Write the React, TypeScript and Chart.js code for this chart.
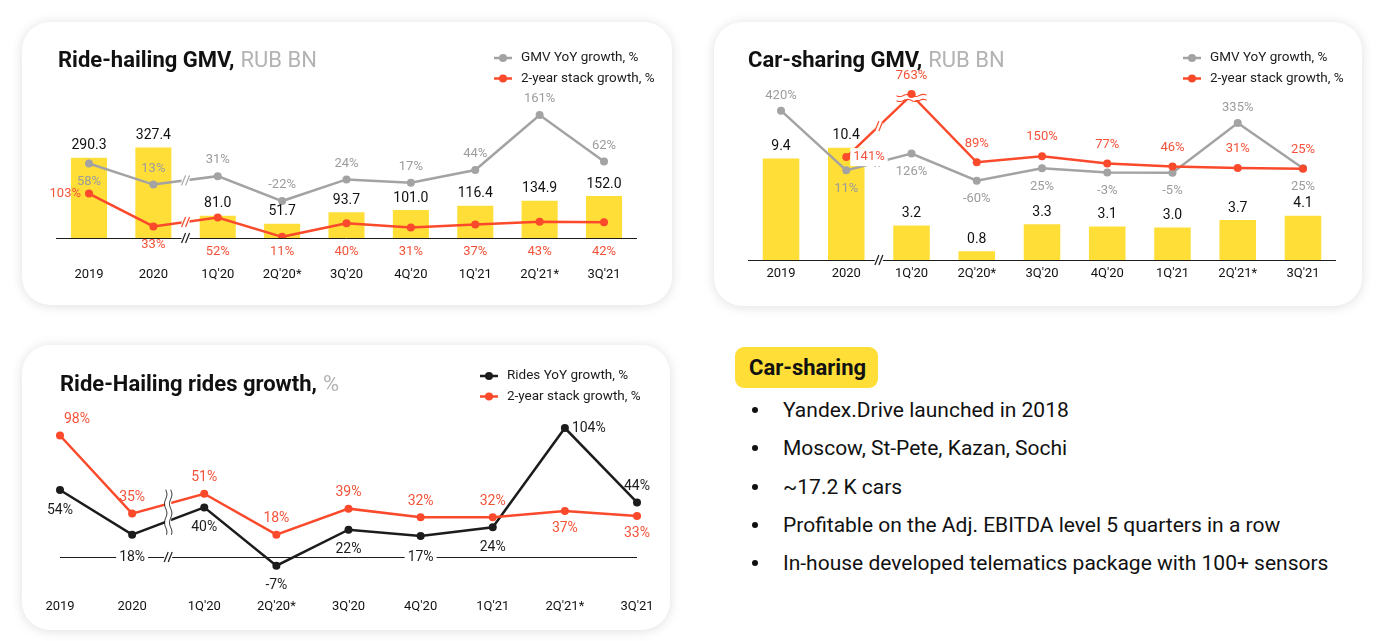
import React, { useEffect, useRef } from 'react';
import { Chart, registerables } from 'chart.js';
Chart.register(...registerables);

// ---------- data ----------
const categories = ['2019', '2020', "1Q'20", "2Q'20*", "3Q'20", "4Q'20", "1Q'21", "2Q'21*", "3Q'21"];

const rideGmv = [290.3, 327.4, 81.0, 51.7, 93.7, 101.0, 116.4, 134.9, 152.0];
const rideGmvYoy = [58, 13, 31, -22, 24, 17, 44, 161, 62];
const rideGmvStack = [103, 33, 52, 11, 40, 31, 37, 43, 42];

const carGmv = [9.4, 10.4, 3.2, 0.8, 3.3, 3.1, 3.0, 3.7, 4.1];
const carGmvYoy = [420, 11, 126, -60, 25, -3, -5, 335, 25];
const carGmvStack = [null, 141, 763, 89, 150, 77, 46, 31, 25];

const ridesYoy = [54, 18, 40, -7, 22, 17, 24, 104, 44];
const ridesStack = [98, 35, 51, 18, 39, 32, 32, 37, 33];

const bulletPoints = [
  'Yandex.Drive launched in 2018',
  'Moscow, St-Pete, Kazan, Sochi',
  '~17.2 K cars',
  'Profitable on the Adj. EBITDA level 5 quarters in a row',
  'In-house developed telematics package with 100+ sensors',
];

// ---------- styles ----------
const FONT = 'Roboto';
const YELLOW = '#FFDE38';
const RED = '#FA4A2B';
const RED_TEXT = '#F4533A';
const GRAY = '#A3A3A3';
const GRAY_TEXT = '#9C9C9C';
const BLACK = '#1C1C1C';

const pct = (v: number) => `${v}%`;
const dec = (v: number) => v.toFixed(1);

function drawText(ctx: any, text: string, x: number, y: number, align: string, color: string, font: string, bg?: boolean) {
  ctx.font = font;
  ctx.textAlign = align;
  ctx.textBaseline = 'middle';
  if (bg) {
    const w = ctx.measureText(text).width;
    const lx = align === 'center' ? x - w / 2 : align === 'left' ? x : x - w;
    ctx.fillStyle = '#fff';
    ctx.fillRect(lx - 3, y - 9, w + 6, 18);
  }
  ctx.fillStyle = color;
  ctx.fillText(text, x, y);
}

function drawSlash(ctx: any, x: number, y: number, color: string) {
  ctx.fillStyle = '#fff';
  ctx.fillRect(x - 4, y - 6, 8, 12);
  ctx.strokeStyle = color;
  ctx.lineWidth = 1.2;
  for (const dx of [-2, 2]) {
    ctx.beginPath();
    ctx.moveTo(x + dx - 2, y + 5);
    ctx.lineTo(x + dx + 2, y - 5);
    ctx.stroke();
  }
}

function drawWavyH(ctx: any, x: number, y: number, color: string) {
  ctx.fillStyle = '#fff';
  ctx.fillRect(x - 15, y + 1, 30, 4);
  ctx.strokeStyle = color;
  ctx.lineWidth = 1.1;
  for (const dy of [0.5, 5.5]) {
    ctx.beginPath();
    for (let xx = -15; xx <= 15; xx += 1) {
      const yy = y + dy + Math.sin(xx / 2.5) * 1.1;
      if (xx === -15) ctx.moveTo(x + xx, yy); else ctx.lineTo(x + xx, yy);
    }
    ctx.stroke();
  }
  ctx.fillStyle = color;
  ctx.beginPath();
  ctx.arc(x, y - 1, 4, 0, Math.PI * 2);
  ctx.fill();
}

function makeDecor(cfg: any) {
  return {
    id: 'decor',
    afterDatasetsDraw(chart: any) {
      const ctx = chart.ctx;
      const area = chart.chartArea;
      const xs = chart.scales.x;
      ctx.save();
      const bx = xs.getPixelForValue(1.5);
      if (cfg.breakLines) {
        chart.data.datasets.forEach((ds: any, di: number) => {
          if (ds.type !== 'line') return;
          const meta = chart.getDatasetMeta(di);
          if (ds.data[1] == null || ds.data[2] == null) return;
          const p1 = meta.data[1], p2 = meta.data[2];
          const t = (bx - p1.x) / (p2.x - p1.x);
          drawSlash(ctx, bx, p1.y + t * (p2.y - p1.y), ds.borderColor);
        });
      }
      if (cfg.peakBreak) {
        const [di, idx] = cfg.peakBreak;
        const el = chart.getDatasetMeta(di).data[idx];
        drawWavyH(ctx, el.x, el.y, chart.data.datasets[di].borderColor);
      }
      if (cfg.breakVertical) {
        const ys: number[] = [];
        chart.data.datasets.forEach((ds: any, di: number) => {
          const meta = chart.getDatasetMeta(di);
          const p1 = meta.data[1], p2 = meta.data[2];
          const t = (bx - p1.x) / (p2.x - p1.x);
          ys.push(p1.y + t * (p2.y - p1.y));
        });
        const top = Math.min(...ys) - 14, bot = Math.max(...ys) + 14;
        ctx.fillStyle = '#fff';
        ctx.fillRect(bx - 3, top, 6, bot - top);
        ctx.strokeStyle = BLACK;
        ctx.lineWidth = 1;
        for (const dx of [-2.5, 2.5]) {
          ctx.beginPath();
          for (let yy = top; yy <= bot; yy += 1) {
            const xx = bx + dx + Math.sin((yy - top) / 3) * 1.2;
            if (yy === top) ctx.moveTo(xx, yy); else ctx.lineTo(xx, yy);
          }
          ctx.stroke();
        }
      }
      if (cfg.breakAxis) {
        const ay = cfg.axisZero ? chart.scales.y.getPixelForValue(0) : area.bottom;
        drawSlash(ctx, bx, ay, BLACK);
      }
      chart.data.datasets.forEach((ds: any, di: number) => {
        const pos = ds.labelPos;
        if (!pos) return;
        const meta = chart.getDatasetMeta(di);
        const [offA, offB] = ds.labelOffset || [16, 18];
        meta.data.forEach((el: any, i: number) => {
          const v = ds.data[i];
          if (v == null) return;
          const text = ds.fmt(v);
          const p = pos[i];
          const font = ds.labelFont;
          const color = ds.labelColor;
          let x = el.x, y = el.y, align = 'center', bg = false;
          if (p === 'a') y = el.y - offA;
          else if (p === 'b') y = el.y + offB;
          else if (p === 'l') { x = el.x - 8; align = 'right'; }
          else if (p === 'r') { x = el.x + 7; align = 'left'; }
          else if (p === 'rbg') { x = el.x + 7; align = 'left'; bg = true; }
          else if (p === 'ar') { x = el.x + 4; y = el.y - offA; align = 'left'; }
          else if (p === 'row') y = area.bottom + 14;
          else if (p === 'axis') { y = chart.scales[ds.yAxisID].getPixelForValue(0); bg = true; }
          drawText(ctx, text, x, y, align, color, font, bg);
        });
      });
      ctx.restore();
    },
    afterDraw(chart: any) {
      const ctx = chart.ctx;
      ctx.save();
      ctx.textAlign = 'left';
      ctx.textBaseline = 'alphabetic';
      ctx.font = `bold 22px ${FONT}`;
      ctx.fillStyle = '#111';
      ctx.fillText(cfg.title[0], cfg.titleX, cfg.titleY);
      const w = ctx.measureText(cfg.title[0]).width;
      ctx.font = `22px ${FONT}`;
      ctx.fillStyle = '#B3B3B3';
      ctx.fillText(cfg.title[1], cfg.titleX + w + 6, cfg.titleY);
      cfg.legend.forEach((item: any, i: number) => {
        const y = cfg.legendY + i * 20.5;
        ctx.strokeStyle = item.color;
        ctx.lineWidth = 2.5;
        ctx.beginPath();
        ctx.moveTo(cfg.legendX, y);
        ctx.lineTo(cfg.legendX + 18, y);
        ctx.stroke();
        ctx.fillStyle = item.color;
        ctx.beginPath();
        ctx.arc(cfg.legendX + 9, y, 4, 0, Math.PI * 2);
        ctx.fill();
        drawText(ctx, item.label, cfg.legendX + 27, y, 'left', BLACK, `13.5px ${FONT}`);
      });
      ctx.restore();
    },
  };
}

function lineDs(label: string, data: any[], color: string, axis: string, labelPos: string[], labelColor: string, labelFont: string, order: number, labelOffset?: number[]) {
  return {
    type: 'line',
    label,
    data,
    yAxisID: axis,
    borderColor: color,
    backgroundColor: color,
    borderWidth: 2.5,
    pointRadius: 4,
    pointHoverRadius: 4,
    pointBackgroundColor: color,
    pointBorderWidth: 0,
    tension: 0,
    order,
    labelPos,
    labelColor,
    labelFont,
    labelOffset,
    fmt: pct,
  };
}

function barDs(data: number[]) {
  return {
    type: 'bar',
    label: 'GMV',
    data,
    yAxisID: 'y',
    backgroundColor: YELLOW,
    barPercentage: 0.56,
    categoryPercentage: 1,
    order: 5,
    labelPos: data.map(() => 'a'),
    labelColor: '#111',
    labelFont: `14px ${FONT}`,
    labelOffset: [12, 12],
    fmt: dec,
  };
}

const xAxis = (padding: number, showBorder: boolean) => ({
  type: 'category',
  grid: { display: false, drawTicks: false },
  border: { display: showBorder, color: BLACK, width: 1 },
  ticks: { color: '#111', font: { family: FONT, size: 13 }, padding, maxRotation: 0, autoSkip: false },
  afterFit: (scale: any) => { scale.height = padding + 16; },
});

function chart1Config() {
  return {
    type: 'bar',
    data: {
      labels: categories,
      datasets: [
        barDs(rideGmv),
        lineDs('GMV YoY growth, %', rideGmvYoy, GRAY, 'y2', ['b', 'a', 'a', 'a', 'a', 'a', 'a', 'a', 'a'], GRAY_TEXT, `13px ${FONT}`, 2),
        lineDs('2-year stack growth, %', rideGmvStack, RED, 'y3', ['l', 'b', 'row', 'row', 'row', 'row', 'row', 'row', 'row'], RED_TEXT, `13px ${FONT}`, 1),
      ],
    },
    options: {
      responsive: false,
      animation: false,
      events: [],
      layout: { padding: { left: 34.8, right: 35.8, top: 73, bottom: 22 } },
      plugins: { legend: { display: false }, tooltip: { enabled: false } },
      scales: {
        x: xAxis(29, true),
        y: { display: false, min: 0, max: 518 },
        y2: { display: false, min: -100.6, max: 203.6 },
        y3: { display: false, min: 8.5, max: 312.8 },
      },
    },
    plugins: [makeDecor({
      title: ['Ride-hailing GMV,', 'RUB BN'], titleX: 36, titleY: 45,
      legend: [{ label: 'GMV YoY growth, %', color: GRAY }, { label: '2-year stack growth, %', color: RED }],
      legendX: 472, legendY: 36,
      breakLines: true, breakAxis: true,
    })],
  };
}

function chart2Config() {
  return {
    type: 'bar',
    data: {
      labels: categories,
      datasets: [
        barDs(carGmv),
        lineDs('GMV YoY growth, %', carGmvYoy, GRAY, 'y2', ['a', 'b', 'b', 'b', 'b', 'b', 'b', 'a', 'b'], GRAY_TEXT, `13px ${FONT}`, 2, [15, 18]),
        lineDs('2-year stack growth, %', carGmvStack, RED, 'y3', ['a', 'rbg', 'a', 'a', 'a', 'a', 'a', 'a', 'a'], RED_TEXT, `13px ${FONT}`, 1, [19, 18]),
      ],
    },
    options: {
      responsive: false,
      animation: false,
      events: [],
      layout: { padding: { left: 34.4, right: 26.4, top: 28, bottom: 24 } },
      plugins: { legend: { display: false }, tooltip: { enabled: false } },
      scales: {
        x: xAxis(6, true),
        y: { display: false, min: 0, max: 19.44 },
        y2: { display: false, min: -603, max: 835.6 },
        y3: { display: false, min: -889, max: 1213 },
      },
    },
    plugins: [makeDecor({
      title: ['Car-sharing GMV,', 'RUB BN'], titleX: 34, titleY: 45,
      legend: [{ label: 'GMV YoY growth, %', color: GRAY }, { label: '2-year stack growth, %', color: RED }],
      legendX: 469, legendY: 36,
      breakLines: true, breakAxis: true, peakBreak: [2, 2],
    })],
  };
}

function chart3Config() {
  return {
    type: 'line',
    data: {
      labels: categories,
      datasets: [
        lineDs('Rides YoY growth, %', ridesYoy, BLACK, 'y', ['b', 'axis', 'b', 'b', 'b', 'axis', 'b', 'r', 'a'], BLACK, `14px ${FONT}`, 2, [16, 20]),
        lineDs('2-year stack growth, %', ridesStack, RED, 'y', ['ar', 'a', 'a', 'a', 'a', 'a', 'a', 'b', 'b'], RED_TEXT, `14px ${FONT}`, 1, [16, 17]),
      ],
    },
    options: {
      responsive: false,
      animation: false,
      events: [],
      layout: { padding: { left: 38, right: 33, top: 63.2, bottom: 15.3 } },
      plugins: { legend: { display: false }, tooltip: { enabled: false } },
      scales: {
        x: { ...xAxis(4.5, false), offset: false },
        y: {
          display: true,
          min: -30,
          max: 120,
          ticks: { display: false, stepSize: 10 },
          border: { display: false },
          grid: {
            drawTicks: false,
            lineWidth: 1,
            color: (c: any) => (c.tick && c.tick.value === 0 ? BLACK : 'rgba(0,0,0,0)'),
          },
        },
      },
    },
    plugins: [makeDecor({
      title: ['Ride-Hailing rides growth,', '%'], titleX: 38, titleY: 46,
      legend: [{ label: 'Rides YoY growth, %', color: BLACK }, { label: '2-year stack growth, %', color: RED }],
      legendX: 458, legendY: 31,
      breakVertical: true, breakAxis: true, axisZero: true,
    })],
  };
}

function ChartCard({ left, top, width, height, build }: any) {
  const ref = useRef<HTMLCanvasElement>(null);
  useEffect(() => {
    const chart = new Chart(ref.current as any, build() as any);
    return () => chart.destroy();
  }, []);
  return (
    <div style={{
      position: 'absolute', left, top, width, height, borderRadius: 28, background: '#fff',
      boxShadow: '0 1px 12px rgba(0,0,0,0.13)', overflow: 'hidden',
    }}>
      <canvas ref={ref} width={width} height={height} style={{ display: 'block', width, height }} />
    </div>
  );
}

export default function App() {
  return (
    <div style={{ position: 'absolute', left: 0, top: 0, width: 1383, height: 641, background: '#fff', overflow: 'hidden', fontFamily: FONT }}>
      <ChartCard left={22} top={22} width={650} height={283} build={chart1Config} />
      <ChartCard left={714} top={22} width={648} height={284} build={chart2Config} />
      <ChartCard left={22} top={345} width={648} height={285} build={chart3Config} />
      <div style={{
        position: 'absolute', left: 735, top: 347, width: 143, height: 41, background: YELLOW, borderRadius: 9,
        boxSizing: 'border-box', paddingLeft: 14, display: 'flex', alignItems: 'center',
        fontWeight: 'bold', fontSize: 22, color: '#111',
      }}>Car-sharing</div>
      {bulletPoints.map((t, i) => (
        <div key={i} style={{ position: 'absolute', left: 740, top: 391 + i * 38.3, height: 38, display: 'flex', alignItems: 'center' }}>
          <div style={{ width: 6, height: 6, borderRadius: 3, background: '#111', marginLeft: 12, marginRight: 25 }} />
          <div style={{ fontSize: 21, color: '#111', whiteSpace: 'nowrap' }}>{t}</div>
        </div>
      ))}
    </div>
  );
}
